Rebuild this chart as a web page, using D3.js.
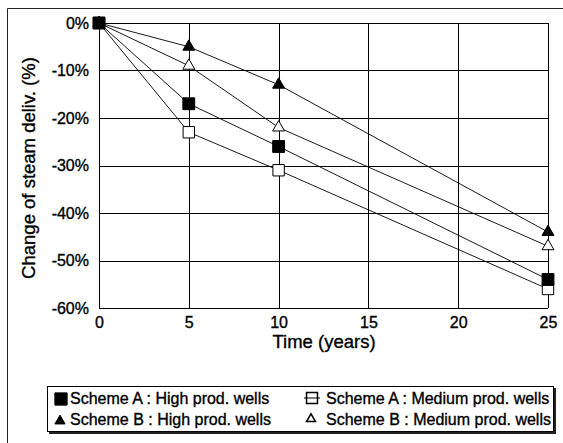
<!DOCTYPE html>
<html><head><meta charset="utf-8">
<script src="https://cdn.jsdelivr.net/npm/d3@7"></script>
<style>html,body{margin:0;padding:0;background:#fff;}svg{display:block;font-family:"Liberation Sans",Arial,sans-serif;}
text{stroke:#000;stroke-width:0.35px;}</style>
</head><body>
<svg id="c" width="563" height="443"></svg>
<script>
const years = [0, 5, 10, 25];
const schemeAHigh = [0, -0.17, -0.26, -0.54];
const schemeAMedium = [0, -0.23, -0.31, -0.56];
const schemeBHigh = [0, -0.05, -0.13, -0.44];
const schemeBMedium = [0, -0.09, -0.22, -0.47];
const xTicks = [0, 5, 10, 15, 20, 25];
const yTicks = [0, -0.1, -0.2, -0.3, -0.4, -0.5, -0.6];
const yTickLabels = ["0%", "-10%", "-20%", "-30%", "-40%", "-50%", "-60%"];
const seriesNames = ["Scheme A : High prod. wells", "Scheme A : Medium prod. wells", "Scheme B : High prod. wells", "Scheme B : Medium prod. wells"];

const svg = d3.select("#c");
const x = d3.scaleLinear().domain([0, 25]).range([99, 548]);
const y = d3.scaleLinear().domain([-0.6, 0]).range([308, 23]);

// outer frame (left & top)
svg.append("line").attr("x1", 7.5).attr("y1", 8.5).attr("x2", 7.5).attr("y2", 443).attr("stroke", "#222").attr("stroke-width", 1);
svg.append("line").attr("x1", 7.5).attr("y1", 8.5).attr("x2", 563).attr("y2", 8.5).attr("stroke", "#222").attr("stroke-width", 1);

// grid
const g = svg.append("g");
g.selectAll(".hg").data(yTicks).join("line")
  .attr("x1", x(0)).attr("x2", x(25)).attr("y1", d => Math.round(y(d)) + 0.5).attr("y2", d => Math.round(y(d)) + 0.5)
  .attr("stroke", "#000").attr("stroke-width", 1);
g.selectAll(".vg").data(xTicks).join("line")
  .attr("y1", y(0)).attr("y2", y(-0.6)).attr("x1", d => Math.round(x(d)) + 0.5).attr("x2", d => Math.round(x(d)) + 0.5)
  .attr("stroke", "#000").attr("stroke-width", 1);

// axes
const yAxis = d3.axisLeft(y).tickValues(yTicks).tickSize(0).tickPadding(10)
  .tickFormat((d, i) => yTickLabels[i]);
const ya = svg.append("g").attr("transform", `translate(${x(0)},0)`).call(yAxis);
ya.select(".domain").remove();
ya.selectAll("text").attr("font-size", 16).attr("font-family", "Liberation Sans, Arial, sans-serif").attr("fill", "#000");

const xAxis = d3.axisBottom(x).tickValues(xTicks).tickSize(0).tickPadding(9).tickFormat(d3.format("d"));
const xa = svg.append("g").attr("transform", `translate(0,${y(-0.6)})`).call(xAxis);
xa.select(".domain").remove();
xa.selectAll("text").attr("font-size", 16).attr("font-family", "Liberation Sans, Arial, sans-serif").attr("fill", "#000");

// titles
svg.append("text").attr("x", 324).attr("y", 348).attr("text-anchor", "middle")
  .attr("font-size", 18.5).attr("fill", "#000").text("Time (years)");
svg.append("text").attr("transform", "translate(35,168) rotate(-90)").attr("text-anchor", "middle")
  .attr("font-size", 18.5).attr("fill", "#000").text("Change of steam deliv. (%)");

// series
const series = [
  {name: seriesNames[1], vals: schemeAMedium, sym: d3.symbolSquare, size: 130, fill: "#fff"},
  {name: seriesNames[3], vals: schemeBMedium, sym: d3.symbolTriangle, size: 62, fill: "#fff"},
  {name: seriesNames[2], vals: schemeBHigh, sym: d3.symbolTriangle, size: 62, fill: "#000"},
  {name: seriesNames[0], vals: schemeAHigh, sym: d3.symbolSquare, size: 140, fill: "#000"}
];
const line = d3.line().x((d, i) => x(years[i])).y(d => y(d));
series.forEach(s => {
  svg.append("path").attr("d", line(s.vals)).attr("fill", "none").attr("stroke", "#000").attr("stroke-width", 0.9);
});
series.forEach(s => {
  svg.append("g").selectAll("path").data(s.vals).join("path")
    .attr("transform", (d, i) => `translate(${x(years[i])},${y(d)})`)
    .attr("d", d3.symbol().type(s.sym).size(s.size))
    .attr("fill", s.fill).attr("stroke", "#000").attr("stroke-width", 1);
});

// legend
const lg = svg.append("g");
lg.append("rect").attr("x", 49).attr("y", 388).attr("width", 507).attr("height", 46).attr("fill", "#222");
lg.append("rect").attr("x", 47.5).attr("y", 386.5).attr("width", 506).attr("height", 45).attr("fill", "#fff").attr("stroke", "#000").attr("stroke-width", 1);
const legItems = [
  {name: seriesNames[0], cx: 61, cy: 399, tx: 70, ty: 404, sym: d3.symbolSquare, size: 150, fill: "#000", seg: false},
  {name: seriesNames[1], cx: 312, cy: 398, tx: 326, ty: 404, sym: d3.symbolSquare, size: 120, fill: "#fff", seg: true},
  {name: seriesNames[2], cx: 60, cy: 421, tx: 70, ty: 425, sym: d3.symbolTriangle, size: 45, fill: "#000", seg: false},
  {name: seriesNames[3], cx: 311, cy: 419, tx: 326, ty: 425, sym: d3.symbolTriangle, size: 35, fill: "#fff", seg: false}
];
legItems.forEach(it => {
  if (it.seg) lg.append("line").attr("x1", it.cx - 8).attr("x2", it.cx + 8).attr("y1", it.cy).attr("y2", it.cy).attr("stroke", "#000");
  lg.append("path").attr("transform", `translate(${it.cx},${it.cy})`).attr("d", d3.symbol().type(it.sym).size(it.size))
    .attr("fill", it.fill).attr("stroke", "#000").attr("stroke-width", it.fill === "#fff" ? 1.5 : 1);
  if (it.seg) lg.append("line").attr("x1", it.cx - 6).attr("x2", it.cx + 6).attr("y1", it.cy).attr("y2", it.cy).attr("stroke", "#000");
  lg.append("text").attr("x", it.tx).attr("y", it.ty).attr("font-size", 16).attr("fill", "#000").text(it.name);
});
</script>
</body></html>
